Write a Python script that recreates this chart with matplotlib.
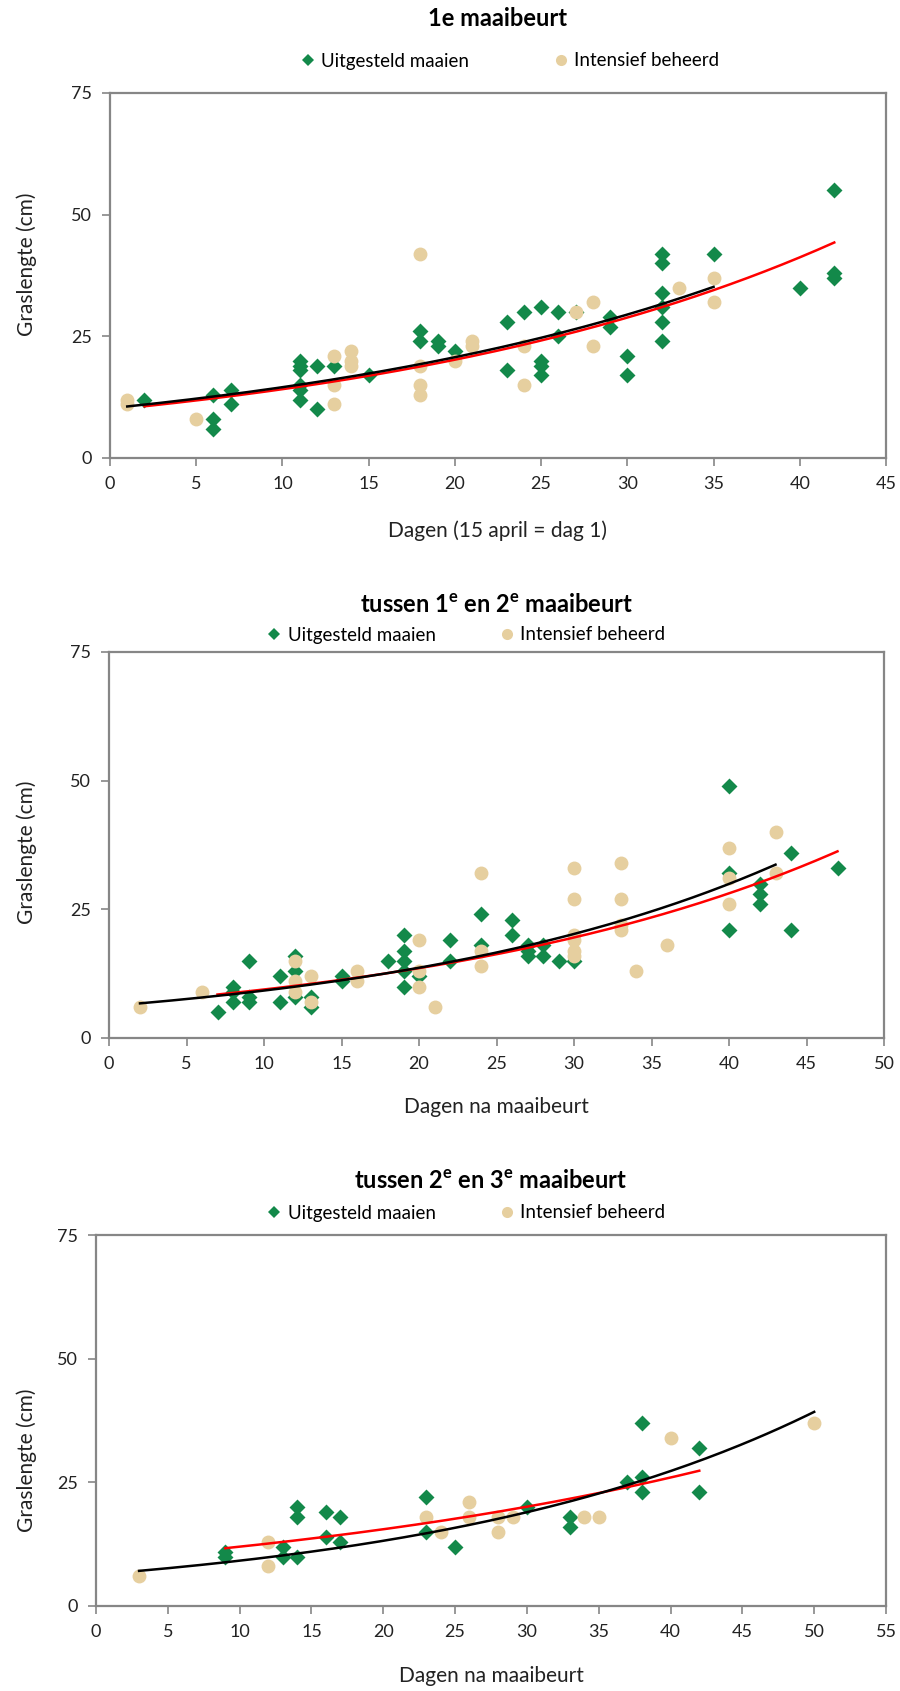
import numpy as np
import matplotlib
matplotlib.use("Agg")
import matplotlib.pyplot as plt
from matplotlib.lines import Line2D

plt.rcParams['font.family'] = ['Lato', 'DejaVu Sans']
plt.rcParams['mathtext.fontset'] = 'custom'
plt.rcParams['mathtext.bf'] = 'Lato:bold'
plt.rcParams['mathtext.rm'] = 'Lato'

GREEN = '#13894a'
TAN = '#e6cf9f'
GREY = '#868686'

# 1e maaibeurt
m1_uit_dag = [2, 6, 6, 6, 7, 7, 11, 11, 11, 11, 11, 11, 12, 12, 13, 15, 18, 18, 19, 19,
              20, 23, 23, 24, 25, 25, 25, 25, 26, 26, 27, 29, 29, 30, 30,
              32, 32, 32, 32, 32, 32, 35, 40, 42, 42, 42]
m1_uit_cm = [12, 13, 8, 6, 14, 11, 20, 19, 18, 15, 14, 12, 19, 10, 19, 17, 26, 24, 24, 23,
             22, 28, 18, 30, 31, 20, 19, 17, 30, 25, 30, 29, 27, 21, 17,
             42, 40, 34, 31, 28, 24, 42, 35, 55, 38, 37]
m1_int_dag = [1, 1, 5, 13, 13, 13, 14, 14, 14, 18, 18, 18, 18, 20, 21, 21, 24, 24,
              27, 28, 28, 33, 35, 35]
m1_int_cm = [12, 11, 8, 21, 15, 11, 22, 20, 19, 42, 19, 15, 13, 20, 24, 23, 23, 15,
             30, 32, 23, 35, 37, 32]

# tussen 1e en 2e maaibeurt
m2_uit_dag = [7, 8, 8, 8, 9, 9, 9, 11, 11, 12, 12, 12, 13, 13, 15, 15, 18,
              19, 19, 19, 19, 19, 20, 22, 22, 24, 24, 26, 26, 27, 27, 27, 28, 28,
              29, 30, 40, 40, 40, 42, 42, 42, 44, 44, 47]
m2_uit_cm = [5, 10, 9, 7, 15, 8, 7, 12, 7, 16, 13, 8, 8, 6, 12, 11, 15,
             20, 17, 15, 13, 10, 12, 19, 15, 24, 18, 23, 20, 18, 17, 16, 18, 16,
             15, 15, 49, 32, 21, 30, 28, 26, 36, 21, 33]
m2_int_dag = [2, 6, 12, 12, 12, 13, 13, 16, 16, 20, 20, 20, 21, 24, 24, 24,
              30, 30, 30, 30, 30, 30, 33, 33, 33, 33, 34, 36, 40, 40, 40, 43, 43]
m2_int_cm = [6, 9, 15, 11, 9, 12, 7, 13, 11, 19, 13, 10, 6, 32, 17, 14,
             33, 27, 20, 19, 17, 16, 34, 27, 22, 21, 13, 18, 37, 31, 26, 40, 32]

# tussen 2e en 3e maaibeurt
m3_uit_dag = [9, 9, 13, 13, 14, 14, 14, 16, 16, 17, 17, 23, 23, 25, 30,
              33, 33, 37, 38, 38, 38, 42, 42]
m3_uit_cm = [11, 10, 12, 10, 20, 18, 10, 19, 14, 18, 13, 22, 15, 12, 20,
             18, 16, 25, 37, 26, 23, 32, 23]
m3_int_dag = [3, 12, 12, 23, 24, 26, 26, 28, 28, 29, 34, 35, 40, 50]
m3_int_cm = [6, 13, 8, 18, 15, 21, 18, 18, 15, 18, 18, 18, 34, 37]

W, H = 900, 1691


def fx(x):
    return x / W


def fy(y):
    return 1 - y / H


def exp_trend(ax, x, y, color):
    # exponential trendline: least squares on ln(y)
    x = np.asarray(x, float)
    y = np.asarray(y, float)
    b, lna = np.polyfit(x, np.log(y), 1)
    xs = np.linspace(x.min(), x.max(), 200)
    ax.plot(xs, np.exp(lna) * np.exp(b * xs), color=color, lw=1.8, zorder=5)


def panel(box, uit, intf, xmax, title, title_y, leg_y, leg_x, leg_sp,
          xlabel, xlabel_y, ylabel_y):
    l, t, r, b = box
    ax = fig.add_axes([fx(l), fy(b), fx(r - l), (b - t) / H])
    ax.scatter(uit[0], uit[1], marker='D', s=66, color=GREEN, lw=0, zorder=3)
    ax.scatter(intf[0], intf[1], marker='o', s=100, color=TAN, lw=0, zorder=4)
    exp_trend(ax, uit[0], uit[1], 'red')
    exp_trend(ax, intf[0], intf[1], 'black')
    ax.set_xlim(0, xmax)
    ax.set_ylim(0, 75)
    ax.set_xticks(np.arange(0, xmax + 1, 5))
    ax.set_yticks([0, 25, 50, 75])
    for s in ax.spines.values():
        s.set_color(GREY)
        s.set_linewidth(1.6)
    ax.tick_params(colors=GREY, length=6, width=1.2, labelsize=13,
                   labelcolor='#222222', pad=7)
    fig.text(fx((l + r) / 2), fy(title_y), title, ha='center', va='center',
             fontsize=17, fontweight='bold')
    fig.text(fx((l + r) / 2), fy(xlabel_y), xlabel, ha='center', va='center',
             fontsize=15, color='#222222')
    fig.text(fx(27), fy(ylabel_y), 'Graslengte (cm)', ha='center', va='center',
             rotation=90, fontsize=15, color='#222222')
    handles = [Line2D([], [], marker='D', color=GREEN, ls='', ms=6.5, mew=0),
               Line2D([], [], marker='o', color=TAN, ls='', ms=8, mew=0)]
    fig.legend(handles, ['Uitgesteld maaien', 'Intensief beheerd'],
               loc='center', bbox_to_anchor=(fx(leg_x), fy(leg_y)), ncol=2,
               frameon=False, fontsize=13.5, handlelength=0.8, handletextpad=0.3,
               columnspacing=leg_sp, borderpad=0)
    return ax


fig = plt.figure(figsize=(W / 100, H / 100), dpi=100)

panel((110, 93, 886, 458), (m1_uit_dag, m1_uit_cm), (m1_int_dag, m1_int_cm), 45,
      '1e maaibeurt', 19, 61, 510, 4.5,
      'Dagen (15 april = dag 1)', 531, 264)
panel((109, 652, 884, 1038), (m2_uit_dag, m2_uit_cm), (m2_int_dag, m2_int_cm), 50,
      r'tussen 1$^{\mathbf{e}}$ en 2$^{\mathbf{e}}$ maaibeurt', 604, 635, 466, 3.4,
      'Dagen na maaibeurt', 1107, 852)
panel((96, 1235, 886, 1606), (m3_uit_dag, m3_uit_cm), (m3_int_dag, m3_int_cm), 55,
      r'tussen 2$^{\mathbf{e}}$ en 3$^{\mathbf{e}}$ maaibeurt', 1181, 1213, 466, 3.4,
      'Dagen na maaibeurt', 1676, 1460)

fig.savefig('out.png', dpi=100)
